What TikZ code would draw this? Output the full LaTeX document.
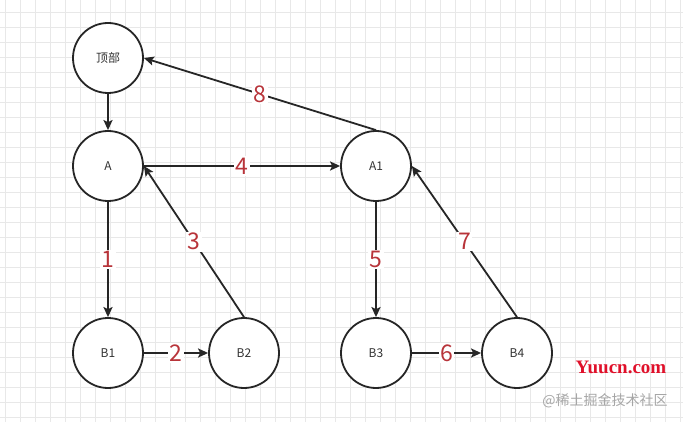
\documentclass[tikz,border=0pt]{standalone}
\usepackage{fontspec}
\setmainfont{Noto Sans CJK SC}
\newfontfamily\wmfont{Liberation Serif}
\usetikzlibrary{arrows.meta}
\definecolor{seqred}{RGB}{184,52,58}
\definecolor{gridgray}{RGB}{232,232,232}
\definecolor{wmred}{RGB}{224,16,42}
\tikzset{
  vertex/.style = {shape=circle, draw=black!85, line width=1.8pt,
                   fill=white, minimum size=70pt, inner sep=0pt,
                   text=black!80, font=\fontsize{12}{14}\selectfont},
  seq/.style    = {fill=white, inner sep=1.5pt, text=seqred,
                   font=\fontsize{23}{26}\selectfont},
  gridline/.style = {draw=gridgray, line width=0.8pt}
}

\begin{document}
\begin{tikzpicture}
  [
  x = 1pt, y = -1pt,
  link/.style = {draw=black!85, line width=1.8pt,
                 -{Stealth[length=10pt, width=9pt, inset=2pt]}}
  ]
  \useasboundingbox (0,0) rectangle (683,422);
  \fill[white] (0,0) rectangle (683,422);
  \foreach \x in {5,20,...,680}
    \draw[gridline] (\x,0) -- (\x,422);
  \foreach \y in {12.5,27.5,...,420}
    \draw[gridline] (0,\y) -- (683,\y);

  \node[vertex] (top) at (108,58)  {顶部};
  \node[vertex] (A)   at (108,166) {A};
  \node[vertex] (A1)  at (376,166) {A1};
  \node[vertex] (B1)  at (108,353) {B1};
  \node[vertex] (B2)  at (244,353) {B2};
  \node[vertex] (B3)  at (376,353) {B3};
  \node[vertex] (B4)  at (517,353) {B4};

  \draw[link] (top) -- (A);
  \draw[link] (A) -- node[seq] {1} (B1);
  \draw[link] (B1) -- node[seq] {2} (B2);
  \draw[link] (B2.north) -- node[seq] {3} (A.east);
  \draw[link] (A) -- node[seq] {4} (A1);
  \draw[link] (A1) -- node[seq] {5} (B3);
  \draw[link] (B3) -- node[seq] {6} (B4);
  \draw[link] (B4.north) -- node[seq] {7} (A1.east);
  \draw[link] (A1.north) -- node[seq] {8} (top.east);

  \node[text=wmred, font=\wmfont\bfseries\fontsize{19}{21}\selectfont]
    (site) at (621,367) {Yuucn.com};
  \node[text=black!35, font=\fontsize{14}{16}\selectfont]
    (credit) at (605,401) {@稀土掘金技术社区};
\end{tikzpicture}
\end{document}
